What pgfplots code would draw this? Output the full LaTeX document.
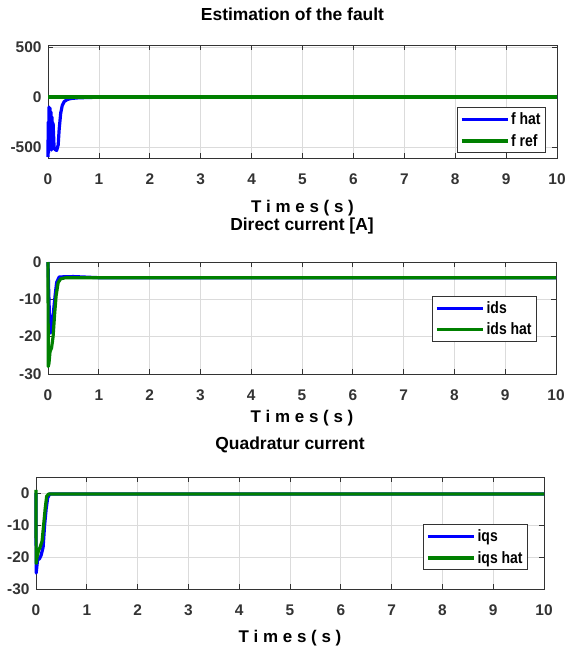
\documentclass[border=0pt]{standalone}
\usepackage{fontspec}
\setmainfont{Liberation Sans}
\newfontfamily\legfont{Liberation Sans}[FakeStretch=0.85]
\usepackage{pgfplots}
\pgfplotsset{compat=1.18}
\definecolor{mblue}{rgb}{0,0,1}
\definecolor{mgreen}{rgb}{0,0.5,0}
\definecolor{axgray}{rgb}{0.2,0.2,0.2}
\definecolor{gridgray}{rgb}{0.86,0.86,0.86}
\pgfplotsset{
  mstyle/.style={
    scale only axis,
    clip=false,
    xmin=0, xmax=10, xtick={0,1,...,10},
    grid=major,
    major grid style={gridgray, line width=0.7bp},
    axis line style={axgray, line width=0.8bp},
    tick style={axgray, line width=0.8bp},
    tick align=inside, major tick length=5bp,
    ticklabel style={font=\bfseries\fontsize{15.5}{16}\selectfont, text=axgray},
    xticklabel style={yshift=-12bp},
    yticklabel style={xshift=-3bp},
    /pgf/number format/assume math mode=true,
    xlabel={T i m e s ( s )},
    xlabel style={font=\bfseries\fontsize{17}{17}\selectfont, at={(axis description cs:0.5,0)}, anchor=center},
    title style={font=\bfseries\fontsize{17.5}{17.5}\selectfont, at={(axis description cs:0.5,1)}, anchor=center},
    legend style={font=\legfont\bfseries\fontsize{16.5}{17}\selectfont, draw=axgray, line width=0.8bp,
      fill=white, inner xsep=3bp, inner ysep=3bp, row sep=4bp},
    legend cell align=left,
    legend image code/.code={\draw[#1, line width=3.2bp] (0bp,0bp) -- (46bp,0bp);},
    every axis plot/.append style={line width=3.2bp, line join=round},
  }
}
\begin{document}
\begin{tikzpicture}
\path[use as bounding box] (0,0) rectangle (565bp,-651bp);

% ---------- Plot 1 ----------
\begin{axis}[mstyle,
  at={(48bp,-158bp)}, anchor=south west,
  width=509bp, height=113bp,
  ymin=-610, ymax=520, ytick={-500,0,500},
  title={Estimation of the fault}, title style={yshift=25bp, xshift=-10bp},
  xlabel style={yshift=-50bp},
  legend style={at={(1,0)}, anchor=south east, xshift=-11bp, yshift=5bp},
]
\addplot[mblue] coordinates {
(0,-600) (0.004,-250) (0.01,-560) (0.02,-100) (0.03,-520) (0.04,-110) (0.05,-500)
(0.06,-150) (0.07,-530) (0.08,-200) (0.09,-510) (0.1,-260) (0.12,-510) (0.14,-525)
(0.17,-535) (0.2,-480) (0.22,-320) (0.25,-160) (0.28,-85) (0.32,-45) (0.38,-25)
(0.45,-15) (0.6,-8) (1,-2) (10,0)};
\addlegendentry{f hat}
\addplot[mgreen] coordinates {(0,0) (10,0)};
\addlegendentry{f ref}
\end{axis}

% ---------- Plot 2 ----------
\begin{axis}[mstyle,
  at={(48bp,-374bp)}, anchor=south west,
  width=508bp, height=112bp,
  ymin=-30, ymax=0, ytick={-30,-20,-10,0},
  title={Direct current [A]}, title style={yshift=30bp},
  xlabel style={yshift=-44bp},
  legend style={at={(1,1)}, anchor=north east, xshift=-19bp, yshift=-34bp},
]
\addplot[mblue] coordinates {
(0,0) (0.01,-6) (0.03,-15) (0.05,-19) (0.08,-17) (0.11,-13) (0.14,-9)
(0.17,-5.5) (0.22,-4.0) (0.5,-3.9) (1,-4.2) (10,-4.2)};
\addlegendentry{ids}
\addplot[mgreen] coordinates {
(0,0) (0.005,-28) (0.02,-27) (0.04,-24) (0.07,-23) (0.1,-20) (0.13,-14)
(0.16,-9) (0.2,-5.5) (0.25,-4.5) (0.35,-4.2) (10,-4.2)};
\addlegendentry{ids hat}
\end{axis}

% ---------- Plot 3 ----------
\begin{axis}[mstyle,
  at={(36bp,-589bp)}, anchor=south west,
  width=508bp, height=112bp,
  ymin=-30, ymax=5, ytick={-30,-20,-10,0},
  title={Quadratur current}, title style={yshift=26bp},
  xlabel style={yshift=-49bp},
  legend style={at={(1,0)}, anchor=south east, xshift=-16bp, yshift=19bp},
]
\addplot[mblue] coordinates {
(0,0) (0.003,-25) (0.01,-24) (0.03,-21) (0.07,-20.5) (0.1,-19.5) (0.14,-17)
(0.17,-10) (0.2,-5) (0.23,-1.5) (0.27,-0.3) (10,-0.3)};
\addlegendentry{iqs}
\addplot[mgreen] coordinates {
(0,1) (0.003,-22) (0.02,-20) (0.05,-18) (0.08,-17) (0.12,-15) (0.15,-10)
(0.18,-5) (0.21,-1) (0.25,-0.3) (10,-0.3)};
\addlegendentry{iqs hat}
\end{axis}
\end{tikzpicture}
\end{document}
